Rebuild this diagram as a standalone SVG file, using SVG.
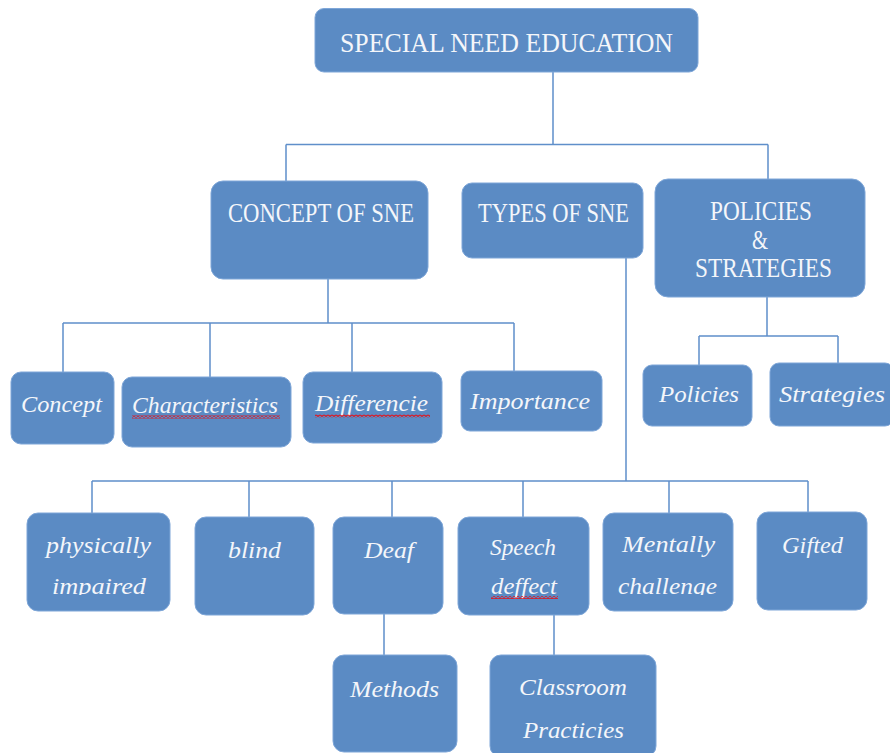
<svg xmlns="http://www.w3.org/2000/svg" width="890" height="753" viewBox="0 0 890 753">
<style>
.box{fill:#5b8bc4;stroke:#7ea6d8;stroke-width:1}
.cap{font-family:"Liberation Serif","DejaVu Serif",serif;font-size:27px;fill:#f4f6fa}
.it{font-family:"Liberation Serif","DejaVu Serif",serif;font-style:italic;font-size:24px;fill:#f4f6fa}
.conn path{fill:none;stroke:#5f8fca;stroke-width:1.5}
.wavy{fill:url(#zig)}
</style>
<defs>
<pattern id="zig" patternUnits="userSpaceOnUse" x="0" y="0" width="4" height="3">
<path d="M0,0.6 L2,2.4 L4,0.6" fill="none" stroke="#e0141e" stroke-width="1.2"/>
</pattern>
<clipPath id="clipA"><rect x="0" y="500" width="890" height="95"/></clipPath>
<clipPath id="clipB"><rect x="0" y="640" width="890" height="98"/></clipPath>
</defs>
<rect width="890" height="753" fill="#ffffff"/>

<g id="connectors" class="conn">
<path d="M553,72 V144.5 M286,144.5 H768 M286,144.5 V181 M768,144.5 V179"/>
<path d="M328,279 V323 M63,323 H514 M63,323 V372 M210,323 V377 M352,323 V372 M514,323 V371"/>
<path d="M626,258 V481 M92,481 H808 M92,481 V513 M249,481 V517 M392,481 V517 M523,481 V517 M669,481 V513 M808,481 V512"/>
<path d="M767,297 V336 M699,336 H838 M699,336 V365 M838,336 V363"/>
<path d="M384,614 V655 M554,615 V655"/>
</g>

<g id="n-root">
<rect class="box" x="315" y="8.5" width="383" height="63.5" rx="9"/>
<text class="cap" x="340" y="52" textLength="333" lengthAdjust="spacingAndGlyphs">SPECIAL NEED EDUCATION</text>
</g>
<g id="n-concept-sne">
<rect class="box" x="211" y="181" width="217" height="98" rx="12"/>
<text class="cap" x="228" y="222" font-size="25" textLength="186" lengthAdjust="spacingAndGlyphs">CONCEPT OF SNE</text>
</g>
<g id="n-types-sne">
<rect class="box" x="462" y="183" width="181" height="75" rx="10"/>
<text class="cap" x="478" y="222" font-size="25" textLength="151" lengthAdjust="spacingAndGlyphs">TYPES OF SNE</text>
</g>
<g id="n-policies-strategies">
<rect class="box" x="655" y="179" width="210" height="118" rx="13"/>
<text class="cap" x="710" y="220" font-size="25" textLength="102" lengthAdjust="spacingAndGlyphs">POLICIES</text>
<text class="cap" x="752" y="249" font-size="25" textLength="16" lengthAdjust="spacingAndGlyphs">&amp;</text>
<text class="cap" x="695" y="277" font-size="25" textLength="137" lengthAdjust="spacingAndGlyphs">STRATEGIES</text>
</g>

<g id="n-concept">
<rect class="box" x="11" y="372" width="103" height="72" rx="10"/>
<text class="it" x="21" y="412" textLength="81" lengthAdjust="spacingAndGlyphs">Concept</text>
</g>
<g id="n-characteristics">
<rect class="box" x="122" y="377" width="169" height="70" rx="10"/>
<text class="it" x="132" y="413" textLength="146" lengthAdjust="spacingAndGlyphs">Characteristics</text>
<rect class="wavy" x="132" y="415.5" width="148" height="3"/>
</g>
<g id="n-differencie">
<rect class="box" x="303" y="372" width="139" height="71" rx="10"/>
<text class="it" x="315" y="411" textLength="113" lengthAdjust="spacingAndGlyphs">Differencie</text>
<rect class="wavy" x="315" y="414.5" width="115" height="3"/>
</g>
<g id="n-importance">
<rect class="box" x="461" y="371" width="141" height="60" rx="9"/>
<text class="it" x="470" y="409" textLength="120" lengthAdjust="spacingAndGlyphs">Importance</text>
</g>

<g id="n-policies">
<rect class="box" x="643" y="365" width="109" height="61" rx="9"/>
<text class="it" x="659" y="402" textLength="80" lengthAdjust="spacingAndGlyphs">Policies</text>
</g>
<g id="n-strategies">
<rect class="box" x="770" y="363" width="124" height="63" rx="9"/>
<text class="it" x="779" y="402" textLength="106" lengthAdjust="spacingAndGlyphs">Strategies</text>
</g>

<g id="n-physically">
<rect class="box" x="27" y="513" width="143" height="98" rx="11"/>
<text class="it" x="46" y="553" textLength="105" lengthAdjust="spacingAndGlyphs">physically</text>
<text class="it" x="52" y="594" textLength="94" lengthAdjust="spacingAndGlyphs" clip-path="url(#clipA)">impaired</text>
</g>
<g id="n-blind">
<rect class="box" x="195" y="517" width="119" height="98" rx="11"/>
<text class="it" x="228" y="558" textLength="53" lengthAdjust="spacingAndGlyphs">blind</text>
</g>
<g id="n-deaf">
<rect class="box" x="333" y="517" width="110" height="97" rx="11"/>
<text class="it" x="364" y="558" textLength="50" lengthAdjust="spacingAndGlyphs">Deaf</text>
</g>
<g id="n-speech">
<rect class="box" x="458" y="517" width="131" height="98" rx="11"/>
<text class="it" x="490" y="555" textLength="66" lengthAdjust="spacingAndGlyphs">Speech</text>
<text class="it" x="491" y="594" textLength="66" lengthAdjust="spacingAndGlyphs">deffect</text>
<rect class="wavy" x="491" y="596" width="67" height="3"/>
</g>
<g id="n-mentally">
<rect class="box" x="603" y="513" width="130" height="98" rx="11"/>
<text class="it" x="622" y="552" textLength="93" lengthAdjust="spacingAndGlyphs">Mentally</text>
<text class="it" x="618" y="594" textLength="99" lengthAdjust="spacingAndGlyphs" clip-path="url(#clipA)">challenge</text>
</g>
<g id="n-gifted">
<rect class="box" x="757" y="512" width="110" height="98" rx="11"/>
<text class="it" x="782" y="553" textLength="61" lengthAdjust="spacingAndGlyphs">Gifted</text>
</g>

<g id="n-methods">
<rect class="box" x="333" y="655" width="124" height="97" rx="11"/>
<text class="it" x="350" y="697" textLength="89" lengthAdjust="spacingAndGlyphs">Methods</text>
</g>
<g id="n-classroom">
<rect class="box" x="490" y="655" width="166" height="102" rx="11"/>
<text class="it" x="519" y="695" textLength="108" lengthAdjust="spacingAndGlyphs">Classroom</text>
<text class="it" x="523" y="738" textLength="101" lengthAdjust="spacingAndGlyphs" clip-path="url(#clipB)">Practicies</text>
</g>
</svg>
